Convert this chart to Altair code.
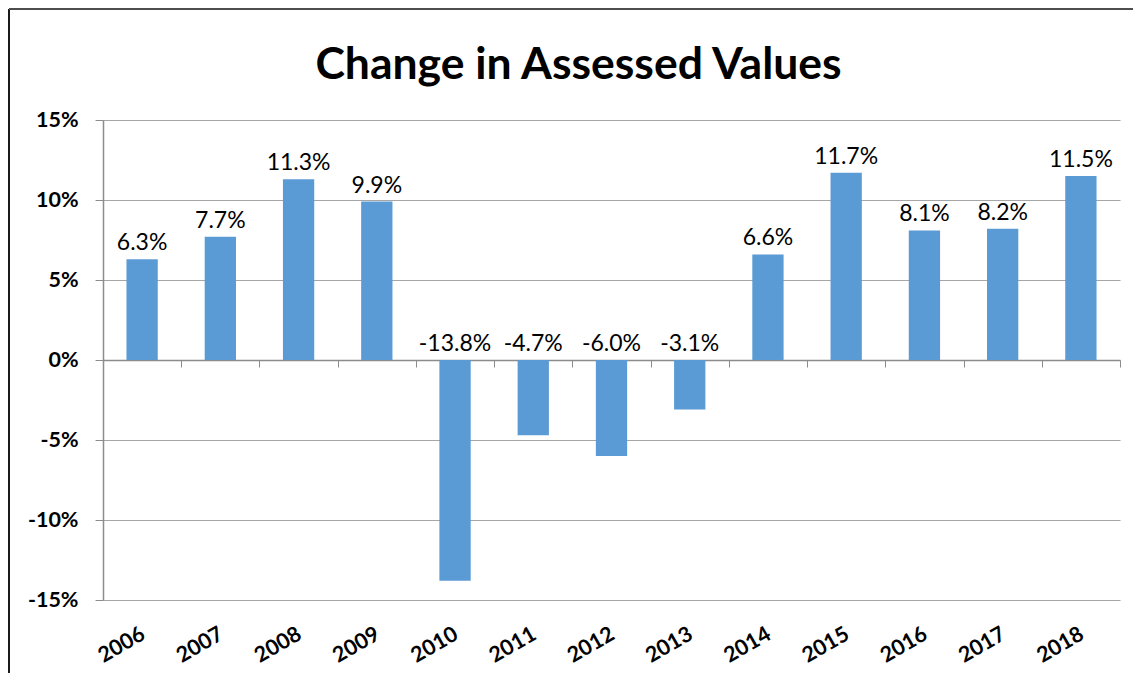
import altair as alt
import pandas as pd

# ---- data ----
years = ["2006", "2007", "2008", "2009", "2010", "2011", "2012",
         "2013", "2014", "2015", "2016", "2017", "2018"]
changes = [6.3, 7.7, 11.3, 9.9, -13.8, -4.7, -6.0, -3.1, 6.6, 11.7, 8.1, 8.2, 11.5]
y_ticks = [-15, -10, -5, 0, 5, 10, 15]

df = pd.DataFrame({"year": years, "change": changes})
frame_df = pd.DataFrame({"k": [0]})

FONT = "Lato"
BAR = "#5B9BD5"
GRID = "#a6a6a6"
AXIS = "#8c8c8c"

x_scale = alt.Scale(paddingInner=0, paddingOuter=0)
y_scale = alt.Scale(domain=[-15, 15], nice=False, zero=True)


def y_axis():
    return alt.Axis(
        values=y_ticks, labelExpr="datum.value + '%'",
        labelFont=FONT, labelFontWeight="bold", labelFontSize=21.5, labelColor="#000",
        labelPadding=17, tickSize=8, tickColor=AXIS, domainColor=AXIS, domainWidth=1.5,
        gridColor=GRID, gridWidth=1.2, grid=True, title=None,
    )


# bars, carrying the zero-line x axis (ticks at category boundaries)
bars = alt.Chart(df).mark_bar(color=BAR, width=alt.RelativeBandSize(0.4)).encode(
    x=alt.X("year:N", sort=years, title=None, scale=x_scale,
            axis=alt.Axis(orient="bottom", offset=-240, labels=False, tickBand="extent",
                          tickSize=7, tickColor=AXIS, domainColor=AXIS, domainWidth=1.5,
                          grid=False, title=None)),
    y=alt.Y("change:Q", scale=y_scale, axis=y_axis(), title=None),
)

# value labels, carrying the bottom category labels
labels = alt.Chart(df).transform_calculate(
    pos="max(datum.change, 0)",
    label="replace(format(datum.change, '.1f'), '\u2212', '-') + '%'",
).mark_text(font=FONT, fontSize=23, color="#000", baseline="alphabetic", dy=-9).encode(
    x=alt.X("year:N", sort=years, title=None, scale=x_scale,
            axis=alt.Axis(orient="bottom", labelAngle=-30, labelAlign="right",
                          labelBaseline="top", labelFont=FONT, labelFontWeight="bold",
                          labelFontSize=21.5, labelColor="#000", labelPadding=23,
                          labelOffset=-4, domain=False, ticks=False, grid=False, title=None)),
    y=alt.Y("pos:Q", scale=y_scale, axis=y_axis(), title=None),
    text="label:N",
)

# outer chart frame (decoration)
frame_left = alt.Chart(frame_df).mark_rule(color="#1a1a1a", strokeWidth=2).encode(
    x=alt.value(-94), y=alt.value(-111), y2=alt.value(553))
frame_top = alt.Chart(frame_df).mark_rule(color="#4d4d4d", strokeWidth=2).encode(
    x=alt.value(-94), x2=alt.value(1030), y=alt.value(-111))

chart = alt.layer(bars, labels, frame_left, frame_top).resolve_axis(
    x="independent"
).properties(
    width=1017, height=480,
    autosize=alt.AutoSizeParams(type="none"),
    padding={"left": 95, "top": 112, "right": 13, "bottom": 73},
    title=alt.TitleParams("Change in Assessed Values", font=FONT, fontSize=44.5,
                          fontWeight="bold", color="#000", anchor="middle",
                          baseline="bottom", offset=-124, dx=-33),
).configure_view(strokeWidth=0)

chart.save("out.html", embed_options={"renderer": "svg", "actions": False})
